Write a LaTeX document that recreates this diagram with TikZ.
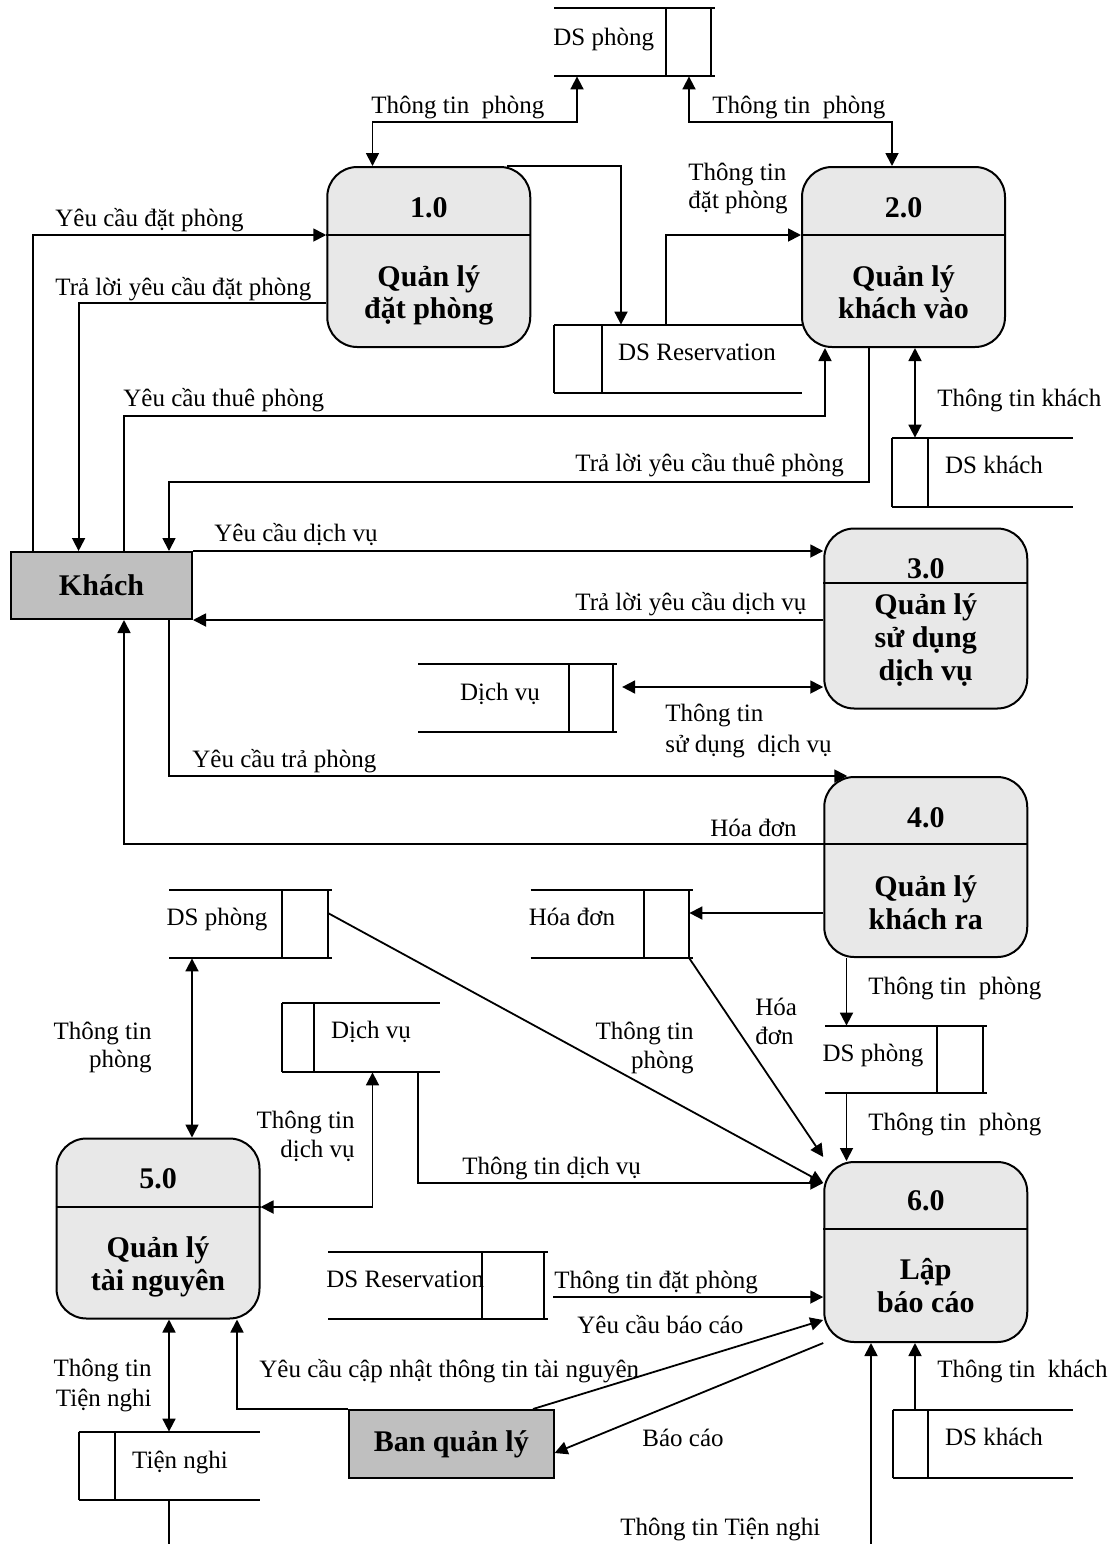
\documentclass[tikz,border=0pt]{standalone}
\usepackage{fontspec}
\setmainfont{Liberation Serif}
\usetikzlibrary{arrows.meta,calc,fit}

\definecolor{procfill}{gray}{0.91}
\definecolor{entfill}{gray}{0.75}

\tikzset{
  boxline/.style={line width=1pt},
  proc/.style={draw, boxline, fill=procfill, rounded corners=15pt,
    minimum width=101.5pt, minimum height=90pt, inner sep=0pt},
  ent/.style={draw, boxline, fill=entfill, inner sep=0pt,
    font=\fontsize{15}{18}\selectfont\bfseries},
  ptxt/.style={font=\fontsize{15}{18}\selectfont\bfseries, inner sep=0pt, anchor=base},
  lbl/.style={font=\fontsize{12.5}{15}\selectfont, inner sep=0pt},
  storeline/.style={line width=1pt},
  tip/.tip={Triangle[length=6.5pt,width=6.5pt]},
  flow/.style={line width=0.9pt, -tip},
  flowboth/.style={line width=0.9pt, tip-tip},
}

% data store open on the left, closed on the right
% #1 name, #2 left x, #3 divider x, #4 right x, #5 top y, #6 bottom y
\newcommand{\storeRight}[6]{%
  \node[fit={(#2,#5) (#4,#6)}, inner sep=0pt] (#1) {};
  \draw[storeline] (#2,#5) -- ({#4+4},#5) (#2,#6) -- ({#4+4},#6)
    (#3,#5) -- (#3,#6) (#4,#5) -- (#4,#6);
}
% data store closed on the left, open on the right
% #1 name, #2 left x, #3 divider x, #4 end x, #5 top y, #6 bottom y
\newcommand{\storeLeft}[6]{%
  \node[fit={(#2,#5) (#4,#6)}, inner sep=0pt] (#1) {};
  \draw[storeline] (#2,#5) -- (#4,#5) (#2,#6) -- (#4,#6)
    (#2,#5) -- (#2,#6) (#3,#5) -- (#3,#6);
}

\begin{document}
\begin{tikzpicture}[x=0.5pt,y=-0.5pt]
\useasboundingbox (0,0) rectangle (1114,1544);

% ---------- processes ----------
\node[proc] (p1) at (428.75,257) {};
\node[proc] (p2) at (903.5,257) {};
\node[proc] (p3) at (925.75,618.5) {};
\node[proc] (p4) at (925.75,867) {};
\node[proc] (p5) at (158,1228.5) {};
\node[proc] (p6) at (925.75,1252) {};

\draw[boxline] (p1.west |- 0,235) -- (p1.east |- 0,235);
\draw[boxline] (p2.west |- 0,235) -- (p2.east |- 0,235);
\draw[boxline] (p3.west |- 0,583) -- (p3.east |- 0,583);
\draw[boxline] (p4.west |- 0,844) -- (p4.east |- 0,844);
\draw[boxline] (p5.west |- 0,1207) -- (p5.east |- 0,1207);
\draw[boxline] (p6.west |- 0,1229) -- (p6.east |- 0,1229);

\node[ptxt] (p1n) at (428.75,217) {1.0};
\node[ptxt] (p1a) at (428.75,286) {Quản lý};
\node[ptxt] (p1b) at (428.75,318) {đặt phòng};

\node[ptxt] (p2n) at (903.5,217) {2.0};
\node[ptxt] (p2a) at (903.5,286) {Quản lý};
\node[ptxt] (p2b) at (903.5,318) {khách vào};

\node[ptxt] (p3n) at (925.75,578) {3.0};
\node[ptxt] (p3a) at (925.75,614) {Quản lý};
\node[ptxt] (p3b) at (925.75,647) {sử dụng};
\node[ptxt] (p3c) at (925.75,680) {dịch vụ};

\node[ptxt] (p4n) at (925.75,827) {4.0};
\node[ptxt] (p4a) at (925.75,896) {Quản lý};
\node[ptxt] (p4b) at (925.75,929) {khách ra};

\node[ptxt] (p5n) at (158,1188) {5.0};
\node[ptxt] (p5a) at (158,1257) {Quản lý};
\node[ptxt] (p5b) at (158,1290) {tài nguyên};

\node[ptxt] (p6n) at (925.75,1210) {6.0};
\node[ptxt] (p6a) at (925.75,1279) {Lập};
\node[ptxt] (p6b) at (925.75,1312) {báo cáo};

% ---------- external entities ----------
\node[ent, minimum width=90.5pt, minimum height=33.5pt] (khach) at (101.5,585.5) {Khách};
\node[ent, minimum width=102.3pt, minimum height=34pt] (bql) at (451.3,1444) {Ban quản lý};

% ---------- data stores ----------
\storeRight{sA1}{554}{666}{711}{8}{76}
\storeLeft{sB1}{554}{602}{802}{325}{393}
\storeLeft{sB2}{892}{928}{1073}{438}{507}
\storeRight{sA2}{418}{568.5}{612.7}{664}{732}
\storeRight{sA3}{169}{282}{327.5}{890}{958}
\storeRight{sA4}{530.5}{643.7}{689}{890}{958}
\storeLeft{sB3}{282}{313.6}{440}{1003}{1072}
\storeRight{sA5}{825}{937}{983}{1026}{1093}
\storeRight{sA6}{328}{482}{544}{1252}{1319}
\storeLeft{sB4}{78.6}{115}{260}{1432}{1500}
\storeLeft{sB5}{892.5}{928}{1072.6}{1410}{1478}

\node[lbl, anchor=base west] (sA1t) at (553,45) {DS phòng};
\node[lbl, anchor=base] (sB1t) at (697,360) {DS Reservation};
\node[lbl, anchor=base] (sB2t) at (994,473) {DS khách};
\node[lbl, anchor=base] (sA2t) at (500,700) {Dịch vụ};
\node[lbl, anchor=base] (sA3t) at (217,925) {DS phòng};
\node[lbl, anchor=base] (sA4t) at (572,925) {Hóa đơn};
\node[lbl, anchor=base] (sB3t) at (371,1038) {Dịch vụ};
\node[lbl, anchor=base] (sA5t) at (873,1061) {DS phòng};
\node[lbl, anchor=base west] (sA6t) at (326,1287) {DS Reservation};
\node[lbl, anchor=base] (sB4t) at (180,1468) {Tiện nghi};
\node[lbl, anchor=base] (sB5t) at (994,1445) {DS khách};

% ---------- flows around 1.0 and 2.0 ----------
\draw[flowboth] (sA1.south -| 577,0) |- (372.5,122) -- (p1.north -| 372.5,0);
\draw[flowboth] (sA1.south -| 689,0) |- (892,122) -- (p2.north -| 892,0);
\draw[flow] (khach.north -| 33,0) |- (p1.west |- 0,235);
\draw[flow] (p1.west |- 0,303) -| (khach.north -| 78.6,0);
\draw[flow] (p1.north -| 507,0) -| (sB1.north -| 621,0);
\draw[flow] (sB1.north -| 666,0) |- (p2.west |- 0,235);
\draw[flow] (khach.north -| 124,0) |- (825,416) -- (p2.south -| 825,0);
\draw[flow] (p2.south -| 869,0) |- (169,482) -- (khach.north -| 169,0);
\draw[flowboth] (p2.south -| 915,0) -- (sB2.north -| 915,0);

% ---------- flows around 3.0 and 4.0 ----------
\draw[flow] (khach.north east) -- (p3.west |- khach.north east);
\draw[flow] (p3.west |- khach.south east) -- (khach.south east);
\draw[flowboth] ($(sA2.east |- 0,687)+(9,0)$) -- (p3.west |- 0,687);
\draw[flow] (khach.south -| 169,0) |- ($(p4.north west)+(24,0)$);
\draw[flow] (p4.west |- 0,844) -| (khach.south -| 124,0);
\draw[flow] (p4.west |- 0,913) -- (sA4.east |- 0,913);
\draw[flow] (p4.south -| 846.5,0) -- (sA5.north -| 846.5,0);

% ---------- flows into 6.0 ----------
\draw[flow] (sA5.south -| 846.5,0) -- (p6.north -| 846.5,0);
\draw[flow] (sA4.south east) -- ($(p6.north west)+(0,-4)$);
\draw[flow] (sA3.east |- 0,913) -- (p6.west |- 0,1183);
\draw[flow] (sB3.south -| 418,0) |- (p6.west |- 0,1183);
\draw[flow] ($(sA6.east |- 0,1297)+(9,0)$) -- (p6.west |- 0,1297);
\draw[flow] (bql.north -| 533,0) -- (p6.west |- 0,1320);
\draw[flow] (p6.west |- 0,1343) -- (bql.east |- 0,1453);
\draw[flow] (sB5.north -| 915,0) -- (p6.south -| 915,0);
\coordinate (tnEnd) at (871,1544);
\draw[flow] (tnEnd) -- (p6.south -| tnEnd);

% ---------- flows around 5.0 ----------
\draw[flowboth] (sA3.south -| 192,0) -- (p5.north -| 192,0);
\draw[flowboth] (sB3.south -| 372.5,0) |- (p5.east |- 0,1207);
\draw[flow] (bql.north west) -| (p5.south -| 237,0);
\draw[flowboth] (p5.south -| 169,0) -- (sB4.north -| 169,0);
\coordinate (tnStart) at (169,1544);
\draw[line width=0.9pt] (sB4.south -| tnStart) -- (tnStart);

% ---------- flow labels ----------
\node[lbl, anchor=base west] (l1) at (371,113) {Thông tin\ \ phòng};
\node[lbl, anchor=base west] (l2) at (712,113) {Thông tin\ \ phòng};
\node[lbl, anchor=base west] (l3a) at (688,180) {Thông tin};
\node[lbl, anchor=base west] (l3b) at (688,208) {đặt phòng};
\node[lbl, anchor=base west] (l4) at (55,226) {Yêu cầu đặt phòng};
\node[lbl, anchor=base west] (l5) at (55,295) {Trả lời yêu cầu đặt phòng};
\node[lbl, anchor=base west] (l6) at (123,406) {Yêu cầu thuê phòng};
\node[lbl, anchor=base west] (l7) at (937,406) {Thông tin khách};
\node[lbl, anchor=base west] (l8) at (575,471) {Trả lời yêu cầu thuê phòng};
\node[lbl, anchor=base west] (l9) at (214,541) {Yêu cầu dịch vụ};
\node[lbl, anchor=base west] (l10) at (575,610) {Trả lời yêu cầu dịch vụ};
\node[lbl, anchor=base west] (l11a) at (665,721) {Thông tin};
\node[lbl, anchor=base west] (l11b) at (665,752) {sử dụng\ \ dịch vụ};
\node[lbl, anchor=base west] (l12) at (192,767) {Yêu cầu trả phòng};
\node[lbl, anchor=base west] (l13) at (710,836) {Hóa đơn};
\node[lbl, anchor=base east] (l14a) at (152,1039) {Thông tin};
\node[lbl, anchor=base east] (l14b) at (152,1067) {phòng};
\node[lbl, anchor=base east] (l15a) at (694,1039) {Thông tin};
\node[lbl, anchor=base east] (l15b) at (694,1068) {phòng};
\node[lbl, anchor=base west] (l16a) at (755,1015) {Hóa};
\node[lbl, anchor=base west] (l16b) at (755,1044) {đơn};
\node[lbl, anchor=base west] (l17) at (868,994) {Thông tin\ \ phòng};
\node[lbl, anchor=base west] (l18) at (868,1130) {Thông tin\ \ phòng};
\node[lbl, anchor=base east] (l19a) at (355,1128) {Thông tin};
\node[lbl, anchor=base east] (l19b) at (355,1157) {dịch vụ};
\node[lbl, anchor=base west] (l20) at (462,1174) {Thông tin dịch vụ};
\node[lbl, anchor=base west] (l21) at (554,1288) {Thông tin đặt phòng};
\node[lbl, anchor=base west] (l22) at (577,1333) {Yêu cầu báo cáo};
\node[lbl, anchor=base east] (l23a) at (152,1376) {Thông tin};
\node[lbl, anchor=base east] (l23b) at (152,1406) {Tiện nghi};
\node[lbl, anchor=base west] (l24) at (259,1377) {Yêu cầu cập nhật thông tin tài nguyên};
\node[lbl, anchor=base west] (l25) at (642,1446) {Báo cáo};
\node[lbl, anchor=base west] (l26) at (937,1377) {Thông tin\ \ khách};
\node[lbl, anchor=base west] (l27) at (620,1535) {Thông tin Tiện nghi};
\end{tikzpicture}
\end{document}
